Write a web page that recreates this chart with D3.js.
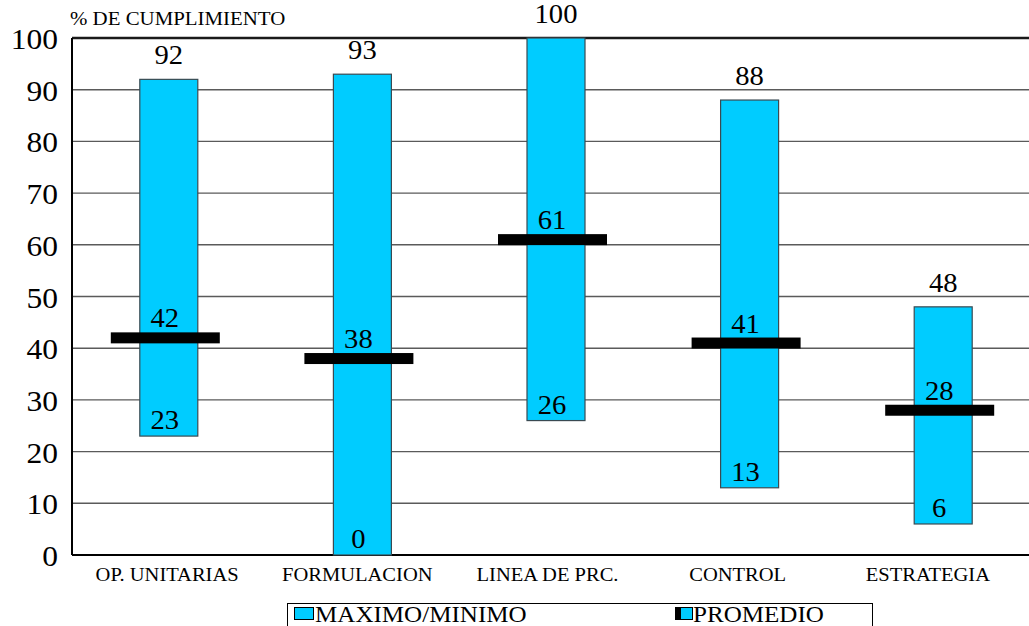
<!DOCTYPE html>
<html>
<head>
<meta charset="utf-8">
<script src="https://cdn.jsdelivr.net/npm/d3@7"></script>
<style>
  html, body { margin: 0; padding: 0; background: #fff; }
  svg { display: block; }
</style>
</head>
<body>
<svg id="chart" width="1029" height="626"></svg>
<script>
// Compliance range per area: maximum, minimum and average (%)
const categories = ["OP. UNITARIAS", "FORMULACION", "LINEA DE PRC.", "CONTROL", "ESTRATEGIA"];
const maximo   = [92, 93, 100, 88, 48];
const minimo   = [23, 0, 26, 13, 6];
const promedio = [42, 38, 61, 41, 28];
const yTicks   = [0, 10, 20, 30, 40, 50, 60, 70, 80, 90, 100];

const serif = "Liberation Serif";
const svg = d3.select("#chart").attr("font-family", serif);
const plotLeft = 72, plotTop = 38, plotBottom = 555, plotRight = 1029;

const y = d3.scaleLinear().domain([0, 100]).range([plotBottom, plotTop]);
// axis category labels
const xCat = d3.scalePoint().domain(categories).range([plotLeft, 1023]).padding(0.5);
// floating bars and average markers
const xBar = d3.scalePoint().domain(categories).range([plotLeft, 1040]).padding(0.5);

const barW = 58, avgW = 109, avgH = 11;
const cyan = "#00CCFF";

// text placed with a slight horizontal stretch (wide serif look)
const place = (x, y, sx) => `translate(${x},${y}) scale(${sx},1)`;

// horizontal gridlines
svg.append("g").selectAll("line")
  .data(yTicks.filter(t => t > 0 && t < 100))
  .join("line")
  .attr("x1", plotLeft).attr("x2", plotRight)
  .attr("y1", d => y(d)).attr("y2", d => y(d))
  .attr("stroke", "#5a5a5a").attr("stroke-width", 1.4);

// top border and axes
svg.append("line").attr("x1", plotLeft).attr("x2", plotRight)
  .attr("y1", y(100)).attr("y2", y(100))
  .attr("stroke", "#1a1a1a").attr("stroke-width", 2.5);
svg.append("line").attr("x1", plotLeft).attr("x2", plotRight)
  .attr("y1", y(0)).attr("y2", y(0))
  .attr("stroke", "#000").attr("stroke-width", 2);
svg.append("line").attr("x1", plotLeft).attr("x2", plotLeft)
  .attr("y1", y(100)).attr("y2", y(0))
  .attr("stroke", "#000").attr("stroke-width", 2);

// y tick labels
svg.append("g").selectAll("text")
  .data(yTicks)
  .join("text")
  .attr("transform", d => place(58, y(d) + 11, 1.05))
  .attr("text-anchor", "end")
  .attr("font-size", 30)
  .text(d => d);

// axis title
svg.append("text")
  .attr("transform", place(70, 25, 1.16))
  .attr("font-size", 18)
  .text("% DE CUMPLIMIENTO");

// category labels
svg.append("g").selectAll("text")
  .data(categories)
  .join("text")
  .attr("transform", d => place(xCat(d), 581, 1.08))
  .attr("text-anchor", "middle")
  .attr("font-size", 19)
  .text(d => d);

const rows = categories.map((c, i) => ({ c, max: maximo[i], min: minimo[i], avg: promedio[i] }));

// floating max/min bars
svg.append("g").selectAll("rect")
  .data(rows)
  .join("rect")
  .attr("x", d => xBar(d.c) - barW / 2)
  .attr("width", barW)
  .attr("y", d => y(d.max))
  .attr("height", d => y(d.min) - y(d.max))
  .attr("fill", cyan)
  .attr("stroke", "#3a4a52").attr("stroke-width", 1.2);

// average markers
svg.append("g").selectAll("rect")
  .data(rows)
  .join("rect")
  .attr("x", d => xBar(d.c) - barW / 2 - 29)
  .attr("width", avgW)
  .attr("y", d => y(d.avg) - avgH / 2)
  .attr("height", avgH)
  .attr("fill", "#000");

// value labels
const lbl = svg.append("g").attr("font-size", 27);
lbl.selectAll("text.max").data(rows).join("text").attr("class", "max")
  .attr("transform", d => place(xBar(d.c), y(d.max) - 15, 1.06))
  .attr("text-anchor", "middle").text(d => d.max);
lbl.selectAll("text.avg").data(rows).join("text").attr("class", "avg")
  .attr("transform", d => place(xBar(d.c) - 4, y(d.avg) - avgH / 2 - 5, 1.06))
  .attr("text-anchor", "middle").text(d => d.avg);
lbl.selectAll("text.min").data(rows).join("text").attr("class", "min")
  .attr("transform", d => place(xBar(d.c) - 4, y(d.min) - 7, 1.06))
  .attr("text-anchor", "middle").text(d => d.min);

// legend
const lg = svg.append("g");
lg.append("rect").attr("x", 287.5).attr("y", 603.5).attr("width", 585).attr("height", 40)
  .attr("fill", "#fff").attr("stroke", "#000").attr("stroke-width", 1);
lg.append("rect").attr("x", 294.5).attr("y", 607.5).attr("width", 19).attr("height", 12)
  .attr("fill", cyan).attr("stroke", "#000").attr("stroke-width", 1);
lg.append("text").attr("transform", place(315, 622, 1.09)).attr("font-size", 23).text("MAXIMO/MINIMO");
lg.append("rect").attr("x", 675).attr("y", 607).attr("width", 8).attr("height", 13).attr("fill", "#000");
lg.append("rect").attr("x", 680.5).attr("y", 607.5).attr("width", 12).attr("height", 12)
  .attr("fill", cyan).attr("stroke", "#000").attr("stroke-width", 1);
lg.append("text").attr("transform", place(693, 622, 1.09)).attr("font-size", 23).text("PROMEDIO");
</script>
</body>
</html>
